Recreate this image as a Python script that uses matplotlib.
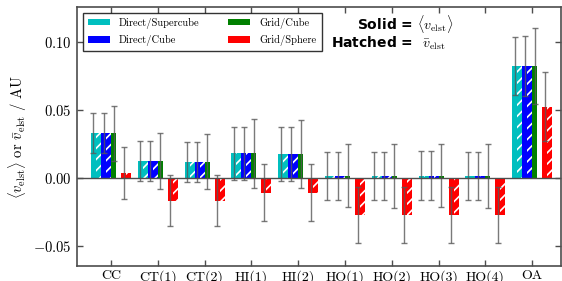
import matplotlib
matplotlib.use("Agg")
import matplotlib.pyplot as plt
import numpy as np

plt.rcParams['font.family'] = 'serif'
plt.rcParams['font.serif'] = ['cmr10']
plt.rcParams['mathtext.fontset'] = 'cm'
plt.rcParams['axes.formatter.use_mathtext'] = True
plt.rcParams['hatch.color'] = 'white'
plt.rcParams['hatch.linewidth'] = 1.2

categories = ['CC', 'CT(1)', 'CT(2)', 'HI(1)', 'HI(2)', 'HO(1)', 'HO(2)', 'HO(3)', 'HO(4)', 'OA']
methods = ['Direct/Supercube', 'Direct/Cube', 'Grid/Cube', 'Grid/Sphere']
colors = ['c', 'b', 'g', 'r']

# solid = mean <v_elst>, hatched = vbar_elst
solid_supercube = [0.0327, 0.0123, 0.0118, 0.0179, 0.0174, 0.0013, 0.0012, 0.0015, 0.0012, 0.0821]
solid_cube      = [0.0327, 0.0123, 0.0118, 0.0179, 0.0174, 0.0013, 0.0012, 0.0015, 0.0012, 0.0821]
solid_gridcube  = [0.0327, 0.0122, 0.0118, 0.0178, 0.0173, 0.0013, 0.0012, 0.0015, 0.0012, 0.0820]
solid_sphere    = [0.0032, -0.0169, -0.0169, -0.0110, -0.0110, -0.0274, -0.0274, -0.0274, -0.0274, 0.0522]

hatch_supercube = [0.0327, 0.0123, 0.0118, 0.0179, 0.0174, 0.0013, 0.0012, 0.0015, 0.0012, 0.0821]
hatch_cube      = [0.0327, 0.0123, 0.0118, 0.0179, 0.0174, 0.0013, 0.0012, 0.0015, 0.0012, 0.0821]
hatch_sphere    = [0.0032, -0.0169, -0.0169, -0.0110, -0.0110, -0.0274, -0.0274, -0.0274, -0.0274, 0.0522]

err_supercube = [0.0145, 0.0148, 0.0147, 0.0196, 0.0196, 0.0178, 0.0178, 0.0178, 0.0178, 0.0214]
err_cube      = [0.0145, 0.0148, 0.0147, 0.0196, 0.0196, 0.0178, 0.0178, 0.0178, 0.0178, 0.0220]
err_gridcube  = [0.0203, 0.0203, 0.0203, 0.0252, 0.0252, 0.0232, 0.0232, 0.0232, 0.0232, 0.0278]
err_sphere    = [0.0190, 0.0187, 0.0187, 0.0212, 0.0212, 0.0208, 0.0208, 0.0208, 0.0208, 0.0253]

solids = [solid_supercube, solid_cube, solid_gridcube, solid_sphere]
hatches = [hatch_supercube, hatch_cube, None, hatch_sphere]
errs = [err_supercube, err_cube, err_gridcube, err_sphere]

fig = plt.figure(figsize=(5.62, 2.81), dpi=100)
ax = fig.add_axes([77/562, 1-266/281, (561-77)/562, (266-7)/281])

x = np.arange(len(categories))
w = 0.107
handles = []
for k in range(4):
    left = x - 4*w + 2*k*w
    h = ax.bar(left, solids[k], w, align='edge', color=colors[k], edgecolor='none',
               linewidth=0, label=methods[k], zorder=2)
    handles.append(h)
    if hatches[k] is not None:
        ax.bar(left + w, hatches[k], w, align='edge', color=colors[k], edgecolor='white',
               linewidth=0, hatch='///', zorder=2)
    ax.errorbar(left + w/2, solids[k], yerr=errs[k], fmt='none', ecolor='0.35',
                elinewidth=1.0, capsize=2.5, capthick=1.0, alpha=0.8, zorder=3)

ax.axhline(0, color='0.3', lw=1.0, zorder=4)
ax.set_xlim(-0.727, 9.615)
ax.set_ylim(-0.065, 0.1255)
ax.set_xticks(x)
ax.set_xticklabels(categories, fontsize=10)
ax.set_yticks([-0.05, 0.0, 0.05, 0.10])
ax.set_yticklabels([r'$-0.05$', r'$0.00$', r'$0.05$', r'$0.10$'], fontsize=10.5)
ax.tick_params(axis='x', pad=3)
ax.tick_params(axis='y', pad=4)
ax.tick_params(direction='in', top=True, right=True, length=4, width=1, color='0.3')
for s in ax.spines.values():
    s.set_color('0.3')
    s.set_linewidth(1.2)
ax.set_ylabel(r'$\langle v_{\rm elst}\rangle$ or $\bar{v}_{\rm elst}$ / AU', fontsize=10.5,
              labelpad=3)

leg = ax.legend(handles=handles, loc='upper left', ncol=2, fontsize=7.5, frameon=True,
                fancybox=False, borderaxespad=0.55, handlelength=2.1, columnspacing=2.7,
                handleheight=0.55, labelspacing=0.6, handletextpad=0.9, borderpad=0.5)
leg.get_frame().set_edgecolor('black')
leg.get_frame().set_linewidth(1.0)

fig.text(357/562, 1-24/281, r'Solid = $\langle v_{\rm elst}\rangle$', family='DejaVu Sans',
         weight='bold', fontsize=10, ha='left', va='center')
fig.text(331/562, 1-43/281, r'Hatched =  $\bar{v}_{\rm elst}$', family='DejaVu Sans',
         weight='bold', fontsize=10, ha='left', va='center')

fig.savefig('out.png', dpi=100)
